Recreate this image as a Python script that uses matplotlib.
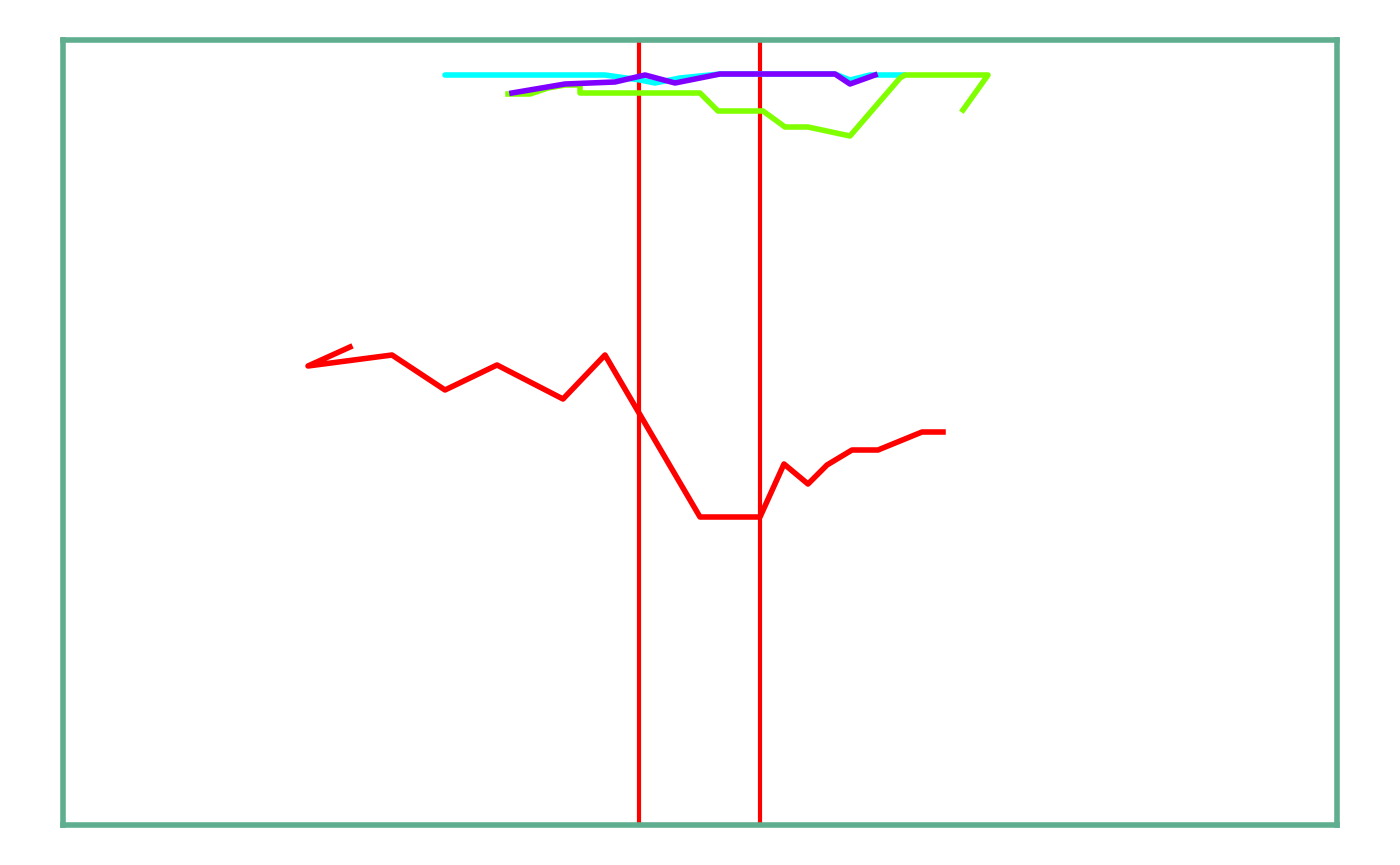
import matplotlib
matplotlib.use("Agg")
import matplotlib.pyplot as plt
from matplotlib.patches import Rectangle

# values, in pixel-like units (y grows downward)
cyan_x = [445, 605, 640, 655, 680, 720, 835, 850, 870, 905]
cyan_y = [75, 75, 80, 83, 78, 74, 74, 80, 75, 75]
green_x = [508, 530, 548, 565, 580, 580, 700, 718, 763, 785, 808, 850, 900, 905, 988, 963]
green_y = [94, 94, 88, 85, 85, 93, 93, 111, 111, 127, 127, 136, 78, 75, 75, 110]
purple_x = [512, 565, 615, 645, 675, 720, 835, 850, 875]
purple_y = [93, 84, 82, 75, 83, 74, 74, 84, 75]
red_x = [350, 308, 392, 445, 497, 563, 605, 700, 760, 784, 808, 827, 852, 878, 922, 943]
red_y = [347, 366, 355, 390, 365, 399, 355, 517, 517, 464, 484, 465, 450, 450, 432, 432]
band = (639, 760)

fig = plt.figure(figsize=(14, 8.65), dpi=100)
ax = fig.add_axes([63/1400, 1-825/865, 1274/1400, 785/865])
ax.set_xlim(63, 1337)
ax.set_ylim(825, 40)

ax.plot(cyan_x, cyan_y, color='#00ffff', lw=4, solid_capstyle='round')
ax.plot(green_x, green_y, color='#80ff00', lw=4)
ax.plot(purple_x, purple_y, color='#8000ff', lw=4)
ax.plot(red_x, red_y, color='#ff0000', lw=4)
ax.add_patch(Rectangle((band[0], 40), band[1]-band[0], 785, fill=False,
                       edgecolor='#ff0000', lw=3, clip_on=False))

for s in ax.spines.values():
    s.set_color('#5fae8f')
    s.set_linewidth(4)
ax.set_xticks([])
ax.set_yticks([])
fig.savefig('out.png')
